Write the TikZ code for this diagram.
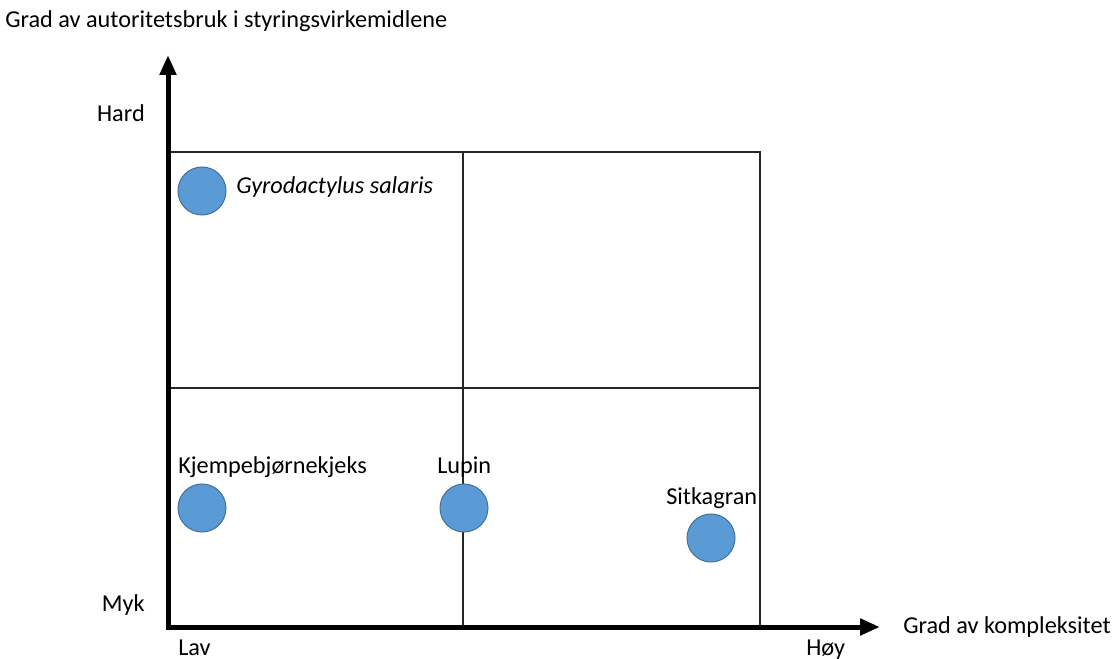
\documentclass[tikz,border=0pt]{standalone}
\usepackage{fontspec}
\setmainfont{Carlito}
\usetikzlibrary{arrows.meta}
\definecolor{dotfill}{RGB}{91,155,213}
\definecolor{dotline}{RGB}{65,113,156}
\tikzset{
  dot/.style={circle,fill=dotfill,draw=dotline,line width=0.75pt,minimum size=36pt,inner sep=0pt},
  gridline/.style={line width=0.9pt,black!85},
  lbl/.style={inner sep=0pt,anchor=base west}
}
\begin{document}
\begin{tikzpicture}[x=0.75pt,y=-0.75pt,font=\fontsize{18.2}{21}\selectfont]
  \useasboundingbox (0,0) rectangle (1115,659);
  % quadrants
  \draw[gridline] (168,152) rectangle (760,627);
  \draw[gridline] (463,152) -- (463,627);
  \draw[gridline] (168,388) -- (760,388);
  % axes
  \coordinate (o) at (168,627);
  \coordinate (ytip) at (168,55);
  \coordinate (xtip) at (880,627);
  \draw[line width=3.75pt,line join=miter,{Triangle[length=15pt,width=12pt]}-{Triangle[length=15pt,width=12pt]}] (ytip) -- (o) -- (xtip);
  \node[lbl] (ytitle) at (5,28) {Grad av autoritetsbruk i styringsvirkemidlene};
  \node[lbl] (xtitle) at (903,633) {Grad av kompleksitet};
  \node[lbl,anchor=base east] (hard) at (145,122) {Hard};
  \node[lbl,anchor=base east] (myk) at (145,611) {Myk};
  \node[lbl] (lav) at (178,655) {Lav};
  \node[lbl] (hoy) at (806,655) {Høy};
  % cases
  \node[dot] (gyro) at (202,191) {};
  \node[dot] (kjempe) at (202,508) {};
  \node[dot] (lupin) at (464,508) {};
  \node[dot] (sitka) at (711,538) {};
  \node[lbl] (gyrotxt) at (236,194) {\itshape Gyrodactylus salaris};
  \node[lbl] (kjempetxt) at (178,474) {Kjempebjørnekjeks};
  \node[lbl] (lupintxt) at (437,474) {Lupin};
  \node[lbl] (sitkatxt) at (666,504) {Sitkagran};
\end{tikzpicture}
\end{document}
